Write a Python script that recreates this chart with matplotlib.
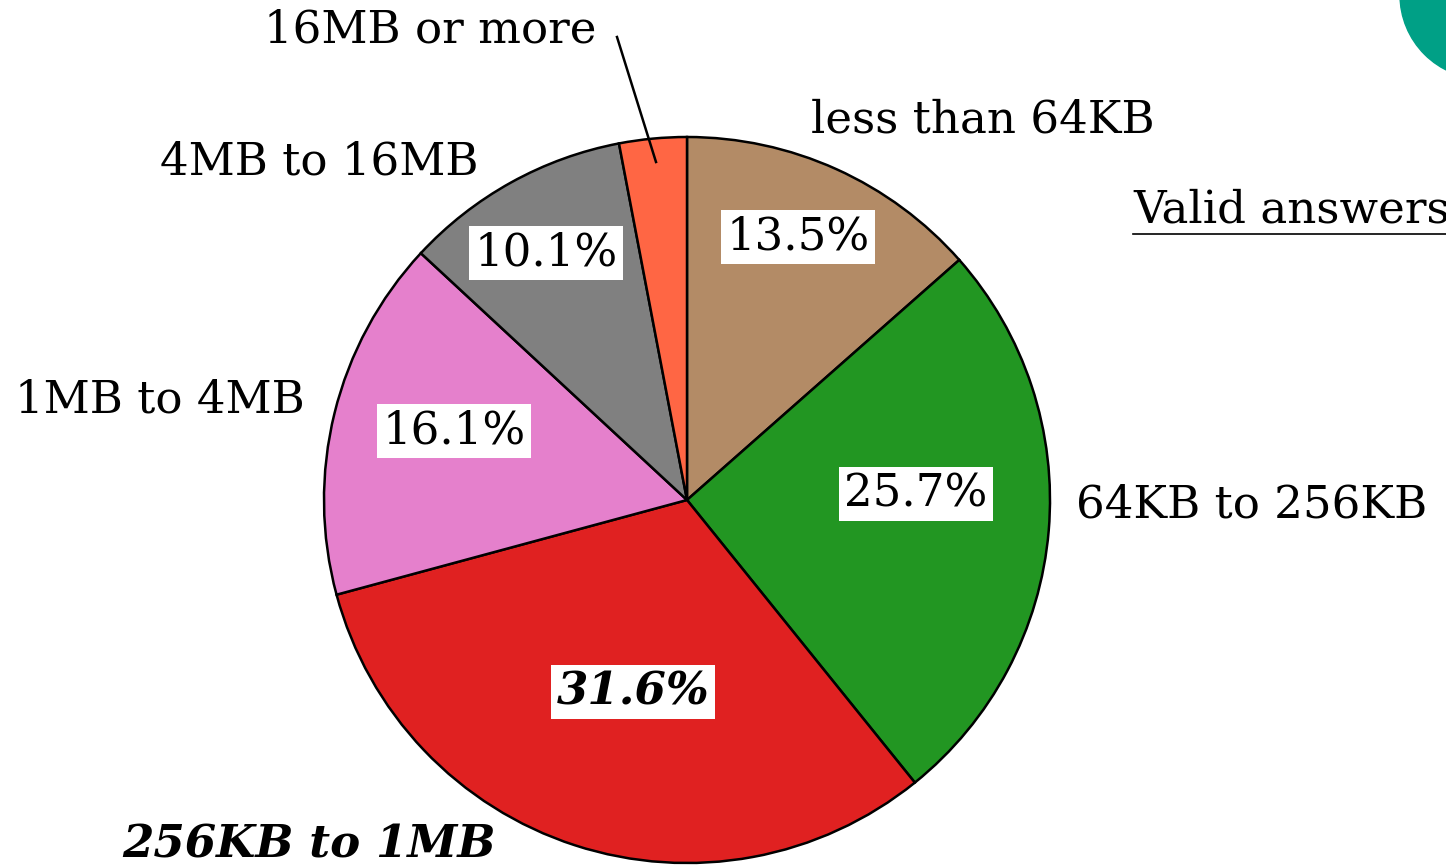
import matplotlib
matplotlib.use("Agg")
import matplotlib.pyplot as plt
from matplotlib.patches import Circle

# data
sizes = ["less than 64KB", "64KB to 256KB", "256KB to 1MB",
         "1MB to 4MB", "4MB to 16MB", "16MB or more"]
shares = [13.5, 25.7, 31.6, 16.1, 10.1, 3.0]
colors = ["#b38b66", "#229622", "#e02121", "#e580cc", "#808080", "#ff6644"]

W, H = 1446, 865
fig = plt.figure(figsize=(W / 100, H / 100), dpi=100)
ax = fig.add_axes([0, 0, 1, 1])

cx, cy, rad = 687, H - 500, 363
ax.pie(shares, colors=colors, startangle=90, counterclock=False,
       center=(cx, cy), radius=rad, frame=True,
       wedgeprops=dict(edgecolor="black", linewidth=1.8))
ax.set_xlim(0, W)
ax.set_ylim(0, H)
ax.set_aspect("equal")
ax.axis("off")

font = "DejaVu Serif"
fs = 32.5

# category labels (pixel layout)
name_pos = [(983, 120, "center"), (1076, 505, "left"), (122, 845, "left"),
            (305, 400, "right"), (478, 162, "right"), (597, 30, "right")]
for i, (name, (x, y, ha)) in enumerate(zip(sizes, name_pos)):
    big = i == 2
    ax.text(x, H - y, name, ha=ha, va="center", fontsize=fs, family=font,
            fontweight="bold" if big else "normal",
            fontstyle="italic" if big else "normal")

# percent labels with white boxes
pct_pos = [(798, 237), (916, 494), (633, 692), (454, 431), (546, 253)]
for i, (x, y) in enumerate(pct_pos):
    big = i == 2
    ax.text(x, H - y, f"{shares[i]:.1f}%", ha="center", va="center",
            fontsize=fs, family=font,
            fontweight="bold" if big else "normal",
            fontstyle="italic" if big else "normal",
            bbox=dict(facecolor="white", edgecolor="none", pad=4))

# leader line for the small slice
ax.plot([617, 656], [H - 37, H - 162], color="black", lw=1.8)

# right side header
ax.text(1133, H - 210, "Valid answers", ha="left", va="center",
        fontsize=fs, family=font, clip_on=False)
ax.plot([1133, W], [H - 234, H - 234], color="black", lw=1.2)

# teal blob in the corner
ax.add_patch(Circle((1484, H + 5), 84, color="#00a086", clip_on=False))

fig.savefig("out.png", dpi=100)
